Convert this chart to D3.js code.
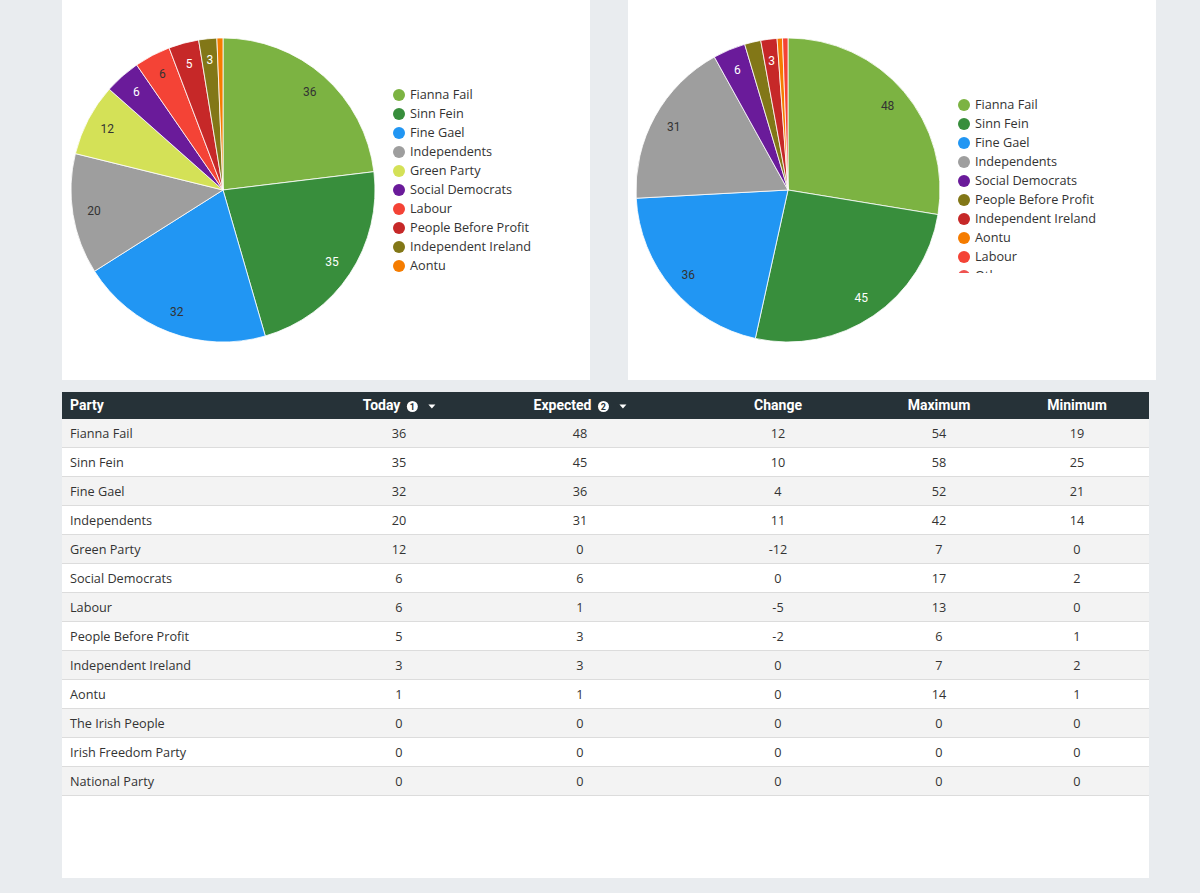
<!DOCTYPE html>
<html><head><meta charset="utf-8">
<script src="https://cdn.jsdelivr.net/npm/d3@7"></script>
<style>
html,body{margin:0;padding:0;background:#e9ecef;}
svg{display:block;}
</style></head>
<body>
<svg id="chart" width="1200" height="893"></svg>
<script>
// ---- data ----
const leftParties = ["Fianna Fail","Sinn Fein","Fine Gael","Independents","Green Party","Social Democrats","Labour","People Before Profit","Independent Ireland","Aontu"];
const leftValues  = [36,35,32,20,12,6,6,5,3,1];
const leftColors  = ["#7cb342","#388e3c","#2196f3","#9e9e9e","#d4e157","#6a1b9a","#f44336","#c62828","#827717","#f57c00"];

const rightParties = ["Fianna Fail","Sinn Fein","Fine Gael","Independents","Social Democrats","People Before Profit","Independent Ireland","Aontu","Labour","Others"];
const rightValues  = [48,45,36,31,6,3,3,1,1,0];
const rightColors  = ["#7cb342","#388e3c","#2196f3","#9e9e9e","#6a1b9a","#827717","#c62828","#f57c00","#f44336","#ef5350"];
const rightHiddenLabels = ["People Before Profit"];

const tableColumns = ["Party","Today","Expected","Change","Maximum","Minimum"];
const tableParties = ["Fianna Fail","Sinn Fein","Fine Gael","Independents","Green Party","Social Democrats","Labour","People Before Profit","Independent Ireland","Aontu","The Irish People","Irish Freedom Party","National Party"];
const today    = [36,35,32,20,12,6,6,5,3,1,0,0,0];
const expected = [48,45,36,31,0,6,1,3,3,1,0,0,0];
const change   = [12,10,4,11,-12,0,-5,-2,0,0,0,0,0];
const maximum  = [54,58,52,42,7,17,13,6,7,14,0,0,0];
const minimum  = [19,25,21,14,0,2,0,1,2,1,0,0,0];

const darkLabelColors = ["#7cb342","#2196f3","#9e9e9e","#d4e157","#f44336","#f57c00","#ef5350"];

const svg = d3.select("#chart");

// panels
svg.append("rect").attr("x",62).attr("y",0).attr("width",528).attr("height",380).attr("fill","#fff");
svg.append("rect").attr("x",628).attr("y",0).attr("width",528).attr("height",380).attr("fill","#fff");

function drawPie(cx, cy, r, names, values, colors, hidden, legendX, legendY, legendClipH){
  const g = svg.append("g").attr("transform",`translate(${cx},${cy})`);
  const pie = d3.pie().sort(null).value(d=>d.v);
  const data = names.map((n,i)=>({n, v:values[i], c:colors[i]}));
  const arcs = pie(data);
  const arc = d3.arc().innerRadius(0).outerRadius(r);
  const labelArc = d3.arc().innerRadius(r*0.86).outerRadius(r*0.86);
  g.selectAll("path").data(arcs.filter(a=>a.data.v>0)).join("path")
    .attr("d",arc).attr("fill",a=>a.data.c).attr("stroke","#fff").attr("stroke-width",0.8);
  const total = d3.sum(values);
  g.selectAll("text").data(arcs.filter(a=>a.data.v/total>0.015 && !hidden.includes(a.data.n))).join("text")
    .attr("transform",a=>`translate(${labelArc.centroid(a)})`)
    .attr("text-anchor","middle").attr("dy","0.35em")
    .attr("font-family","Roboto, sans-serif").attr("font-size",12)
    .attr("fill",a=>darkLabelColors.includes(a.data.c)?"#333":"#fff")
    .text(a=>a.data.v);

  const clipId = "clip"+cx;
  svg.append("clipPath").attr("id",clipId).append("rect")
    .attr("x",legendX-10).attr("y",legendY-12).attr("width",200).attr("height",legendClipH);
  const lg = svg.append("g").attr("clip-path",`url(#${clipId})`);
  const items = lg.selectAll("g").data(data).join("g")
    .attr("transform",(d,i)=>`translate(${legendX},${legendY+i*19})`);
  items.append("circle").attr("r",6).attr("fill",d=>d.c);
  items.append("text").attr("x",11).attr("dy","0.35em")
    .attr("font-family","'Open Sans', sans-serif").attr("font-size",12.7).attr("fill","#333")
    .text(d=>d.n);
}

drawPie(223,190,152,leftParties,leftValues,leftColors,[],399,95,200);
drawPie(788,190,152,rightParties,rightValues,rightColors,rightHiddenLabels,964,105,180);

// ---- table ----
const tX = 62, tW = 1087, headY = 392, headH = 27, rowH = 29;
const colCenters = [null,399,580,778,939,1077];
const x = d3.scaleOrdinal().domain(tableColumns).range([70].concat(colCenters.slice(1)));
const y = d3.scaleBand().domain(tableParties).range([headY+headH, headY+headH+rowH*tableParties.length]);

svg.append("rect").attr("x",tX).attr("y",headY+headH).attr("width",tW).attr("height",878-(headY+headH)).attr("fill","#fff");
svg.append("rect").attr("x",tX).attr("y",headY).attr("width",tW).attr("height",headH).attr("fill","#263238");

const head = svg.append("g").attr("font-family","Roboto, sans-serif").attr("font-weight","bold").attr("font-size",14).attr("fill","#fff");
tableColumns.forEach((c,i)=>{
  const cy = headY+headH/2;
  if(i===0){
    head.append("text").attr("x",x(c)).attr("y",cy).attr("dy","0.35em").text(c);
  } else if(c==="Today"||c==="Expected"){
    const g = head.append("g");
    const t = g.append("text").attr("x",0).attr("y",cy).attr("dy","0.35em").text(c);
    const w = t.node().getComputedTextLength();
    g.append("circle").attr("cx",w+12).attr("cy",cy+1).attr("r",5.5).attr("fill","#fff");
    g.append("text").attr("x",w+12).attr("y",cy+1).attr("dy","0.35em").attr("text-anchor","middle")
      .attr("font-size",9).attr("fill","#263238").text(c==="Today"?"1":"2");
    g.append("path").attr("d",`M${w+28},${cy-1}l7,0l-3.5,4z`).attr("fill","#fff");
    const total = w+35;
    g.attr("transform",`translate(${x(c)-total/2},0)`);
  } else {
    head.append("text").attr("x",x(c)).attr("y",cy).attr("dy","0.35em").attr("text-anchor","middle").text(c);
  }
});

const rows = svg.append("g").selectAll("g").data(tableParties).join("g")
  .attr("transform",d=>`translate(0,${y(d)})`);
rows.append("rect").attr("x",tX).attr("width",tW).attr("height",rowH)
  .attr("fill",(d,i)=>i%2===0?"#f3f3f3":"#fff");
rows.append("line").attr("x1",tX).attr("x2",tX+tW).attr("y1",rowH-0.5).attr("y2",rowH-0.5)
  .attr("stroke","#dcdcdc");
const cols = [tableParties,today,expected,change,maximum,minimum];
rows.each(function(p,i){
  const r = d3.select(this);
  cols.forEach((arr,j)=>{
    r.append("text").attr("x",x(tableColumns[j])).attr("y",rowH/2).attr("dy","0.35em")
      .attr("text-anchor",j===0?"start":"middle")
      .attr("font-family","'Open Sans', sans-serif").attr("font-size",12.7).attr("fill","#333")
      .text(arr[i]);
  });
});
</script>
</body></html>
